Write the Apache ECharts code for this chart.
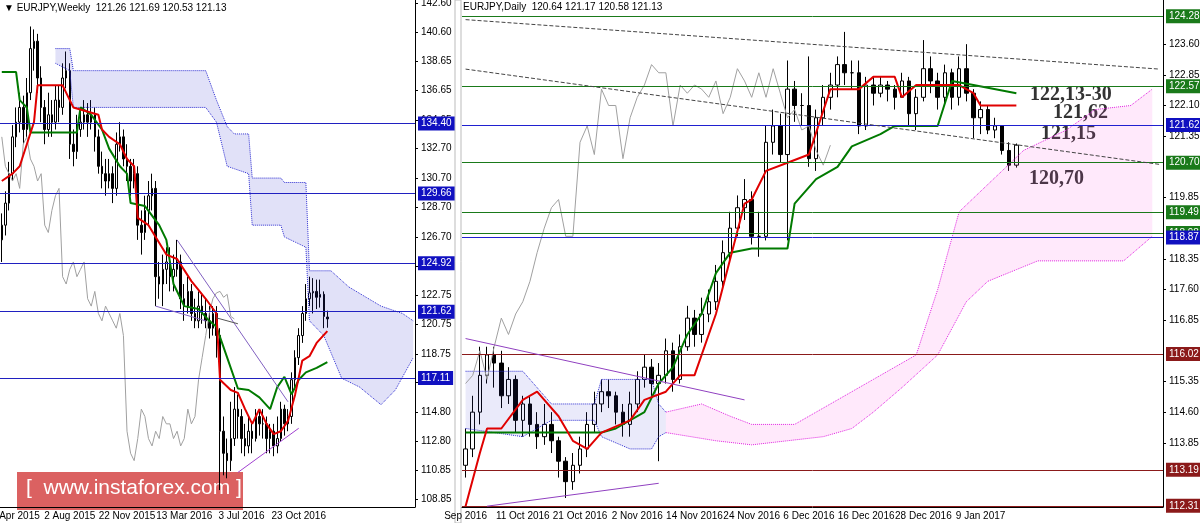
<!DOCTYPE html>
<html><head><meta charset="utf-8">
<script src="https://cdn.jsdelivr.net/npm/echarts@6/dist/echarts.min.js"></script>
<style>html,body{margin:0;padding:0;background:#fff}#c{width:1200px;height:523px}</style>
</head><body><div id="c"></div>
<script>
// ---------- Weekly (left) ----------
const wOpen=[126.5,127.5,129.0,131.0,133.5,134.5,135.5,134.0,136.5,139.5,140.0,137.5,135.5,134.0,135.0,134.5,136.0,135.5,137.5,138.0,133.0,132.5,134.0,134.5,135.0,134.5,135.0,133.5,131.5,131.0,130.5,131.0,130.0,133.0,133.5,132.0,131.5,130.5,131.0,127.5,127.0,128.5,129.5,130.0,124.0,123.5,124.5,125.0,124.0,124.5,125.0,122.5,122.0,123.0,121.5,121.0,122.0,121.5,121.0,120.5,121.5,120.0,113.5,112.0,111.5,113.0,115.0,114.5,113.0,112.5,113.5,113.0,114.5,114.0,114.0,113.0,113.5,112.5,113.0,115.0,114.0,114.5,117.0,118.5,120.0,121.5,122.5,122.9,123.0,122.6,122.8,121.26];
const wClose=[127.5,129.0,131.0,133.5,134.5,135.5,134.0,136.5,139.5,140.0,137.5,135.5,134.0,135.0,134.5,136.0,135.5,137.5,138.0,133.0,132.5,134.0,134.5,135.0,134.5,135.0,133.5,131.5,131.0,130.5,131.0,130.0,133.0,133.5,132.0,131.5,130.5,131.0,127.5,127.0,128.5,129.5,130.0,124.0,123.5,124.5,125.0,124.0,124.5,125.0,122.5,122.0,123.0,121.5,121.0,122.0,121.5,121.0,120.5,121.5,120.0,113.5,112.0,111.5,113.0,115.0,114.5,113.0,112.5,113.5,113.0,114.5,114.0,114.0,113.0,113.5,112.5,113.0,115.0,114.0,114.5,117.0,118.5,120.0,121.5,122.5,122.9,123.0,122.6,122.8,121.3,121.13];
const wHigh=[128.3,129.8,131.8,134.3,135.5,136.5,136.3,137.5,141.0,140.8,140.5,138.3,136.0,136.5,136.0,137.0,137.0,138.5,139.3,138.5,134.0,135.0,135.5,136.0,135.8,136.0,135.5,134.0,132.5,132.0,132.0,131.5,133.8,134.5,134.0,133.0,132.0,132.0,131.5,128.5,129.5,130.5,131.0,130.5,125.0,125.5,126.0,126.0,125.5,126.5,125.5,123.5,124.0,123.5,122.5,123.0,122.8,122.5,122.0,122.0,122.0,120.5,114.5,113.0,115.5,116.5,116.0,115.0,114.0,114.5,114.0,115.0,115.0,115.0,114.5,114.0,114.0,114.5,115.5,115.3,115.0,117.5,119.0,120.5,122.0,123.5,124.0,123.9,123.8,123.8,123.0,121.69];
const wLow=[125.0,126.8,128.5,130.5,132.8,133.8,133.0,133.5,136.0,138.0,136.5,134.5,133.0,133.5,133.5,134.0,134.5,135.0,136.8,132.0,131.5,132.0,133.5,134.0,133.5,134.0,132.5,131.0,130.0,129.5,130.0,129.0,129.5,132.5,131.5,130.5,129.5,130.0,126.5,125.5,126.5,127.5,128.5,122.0,122.5,122.0,123.5,123.0,123.0,124.0,121.8,121.0,121.5,121.0,120.5,120.5,120.8,120.5,119.8,120.0,118.5,109.5,110.5,110.3,110.8,112.5,113.0,112.0,111.8,112.0,112.0,112.8,113.2,113.0,112.0,112.0,111.8,112.0,112.8,113.2,113.5,114.0,116.5,118.0,119.5,121.0,122.0,121.5,121.8,121.9,120.5,120.53];
const wTenkan=[[0,130.5],[3,131],[5,131.5],[7,133],[9,134.5],[10,137],[17,137],[19,136],[20,135.5],[27,135],[28,134],[30,133.5],[33,133],[35,132],[37,131.5],[38,128],[41,127.5],[46,125.5],[49,125.2],[53,123.7],[57,122.5],[60,121.5],[61,117.0],[64,116.3],[66,116.1],[68,115],[70,114],[72,115],[74,114],[76,113.3],[78,113.5],[80,114.2],[82,116.0],[84,118.3],[86,118.6],[88,119.5],[91,120.3]];
const wKijun=[[0,137.9],[4,137.9],[5,136.0],[7,135.5],[8,133.8],[21,133.8],[22,135.5],[25,135],[28,134],[30,132.7],[33,131.5],[35,131],[36,129],[40,128.8],[44,127.5],[46,126.5],[48,123.5],[51,122],[55,121.8],[58,121],[60,120.6],[63,118.5],[66,116.4],[69,116.3],[72,115.8],[75,115.0],[77,116.5],[79,117.2],[81,116.0],[83,117.0],[85,117.5],[88,117.8],[91,118.2]];
const wCloudTop=[[15,139.5],[19,139.5],[20,138],[57,138],[60,136],[63,134.2],[65,133.7],[69,133.7],[70,130.7],[78,130.7],[79,130.4],[85,130.4],[86,124.4],[92,124.4],[97,123.3],[106,122.0],[112,121.5],[115,121.0]];
const wCloudBot=[[15,138.5],[19,138],[20,135.5],[57,135.5],[60,134.5],[63,131.5],[69,131],[70,127.5],[78,127.5],[79,126.7],[85,126],[86,121.0],[90,120.0],[95,117.1],[100,116.5],[106,115.3],[110,116.3],[115,118.5]];
const wLevels=[134.40,129.66,124.92,121.62,117.11];
const wTicks=[108.85,110.85,112.80,114.80,116.80,118.75,120.75,122.75,124.70,126.70,128.70,130.70,132.70,134.65,136.65,138.65,140.60,142.60];
const wLabels={3:'12 Apr 2015',19:'2 Aug 2015',35:'22 Nov 2015',51:'13 Mar 2016',67:'3 Jul 2016',83:'23 Oct 2016'};
const W_N=116;

// ---------- Daily (right) ----------
const dClose=[113.7,114.6,115.5,116.0,115.8,115.0,115.4,114.4,114.8,114.3,114.0,114.3,113.9,113.4,112.9,113.3,113.7,114.3,114.8,115.1,115.0,114.6,114.3,114.8,115.4,115.7,115.3,115.5,116.1,115.4,116.2,116.9,116.5,117.0,117.3,117.8,118.5,119.1,119.6,119.8,118.9,118.9,121.2,121.6,120.9,122.5,122.1,122.1,120.8,121.8,122.3,122.6,123.1,122.9,122.9,121.6,122.6,122.4,122.6,122.5,122.3,122.7,121.9,122.3,123.0,122.7,122.3,122.9,122.3,123.0,122.4,121.8,122.0,121.5,121.6,121.0,120.64,121.13];
const dHigh=[114.2,115.0,116.2,116.2,116.2,116.1,115.7,115.5,115.0,115.0,114.6,114.8,114.6,114.0,113.5,113.6,114.0,114.6,115.1,115.4,115.4,115.1,114.8,115.1,115.6,116.0,115.9,115.8,116.4,116.3,116.5,117.2,117.1,117.4,117.6,118.2,118.8,119.5,119.9,120.3,120.0,119.5,121.6,122.0,121.9,123.2,122.7,122.4,123.3,122.0,122.6,122.9,123.3,123.9,123.2,123.2,122.8,122.8,122.8,122.7,122.6,122.9,122.8,122.5,123.7,123.3,122.9,123.1,123.0,123.3,123.6,122.5,122.2,122.1,121.8,121.5,121.2,121.17];
const dLow=[113.0,113.5,114.3,115.3,115.2,114.7,114.8,114.1,114.0,114.0,113.7,113.8,113.6,113.0,112.5,112.7,113.1,113.5,114.1,114.6,114.7,114.3,114.0,114.0,114.6,115.2,115.0,113.4,115.3,115.1,115.3,116.1,116.2,116.3,116.8,117.1,117.6,118.3,118.9,119.3,118.7,118.4,118.8,120.9,120.7,118.8,121.7,121.6,120.6,120.5,121.6,122.0,122.3,122.6,122.5,121.4,121.5,122.1,122.3,122.2,122.0,122.3,121.6,121.5,122.2,122.4,122.0,122.1,122.0,122.1,122.2,121.3,121.4,121.4,121.3,120.9,120.5,120.58];
const dFirstOpen=113.3;
const dTenkan=[[0,112.3],[2,113.6],[3,114.2],[5,114.2],[8,114.9],[10,115.1],[11,114.9],[13,114.5],[15,113.9],[17,113.7],[19,114.1],[23,114.4],[25,114.9],[28,115.1],[30,115.5],[32,115.5],[35,117.0],[39,119.7],[40,119.8],[42,120.5],[45,120.7],[48,120.9],[51,122.5],[55,122.5],[57,122.8],[60,122.8],[61,122.3],[63,122.6],[69,122.6],[71,122.4],[72,122.1],[77,122.1]];
const dKijun=[[0,114.1],[4,114.1],[19,114.1],[21,114.2],[25,114.6],[27,115.3],[29,115.7],[31,116.5],[33,117.0],[35,118.0],[37,118.5],[40,118.6],[45,118.6],[46,119.7],[49,120.3],[52,120.6],[54,121.1],[58,121.4],[60,121.6],[66,121.6],[68,122.7],[71,122.6],[77,122.4]];
const dCloudTop=[[28,114.6],[33,114.8],[37,114.5],[40,114.3],[46,114.3],[52,114.9],[57,115.4],[63,116.0],[66,117.6],[69,119.5],[72,120.0],[78,121.0],[84,121.5],[88,122.0],[93,122.1],[96,122.5]];
const dCloudBot=[[28,114.1],[35,113.9],[40,113.8],[45,113.9],[50,114.0],[54,114.2],[57,114.6],[61,115.2],[66,116.0],[70,117.3],[73,117.8],[80,118.3],[92,118.3],[96,118.9]];
const dBlueTop=[[0,115.6],[8,115.6],[12,114.8],[18,114.8],[19,115.4],[26,115.4],[27,114.8],[28,114.6]];
const dBlueBot=[[0,114.2],[8,114.0],[12,114.4],[18,114.4],[19,114.0],[23,113.7],[26,113.7],[27,114.0],[28,114.1]];
const dGreenLevels=[124.28,122.57,120.70,119.49,118.98];
const dBlueLevels=[121.62,118.87];
const dRedLevels=[116.02,113.19,112.31];
const dTicks=[113.85,114.60,115.35,116.85,117.60,118.35,119.85,121.35,122.10,122.85,123.60];
const dLabels={0:'Sep 2016',8:'11 Oct 2016',16:'21 Oct 2016',24:'2 Nov 2016',32:'14 Nov 2016',40:'24 Nov 2016',48:'6 Dec 2016',56:'16 Dec 2016',64:'28 Dec 2016',72:'9 Jan 2017'};
const D_N=98;

// ---------- build ----------
const wCats=[...Array(W_N).keys()].map(String);
const dCats=[...Array(D_N).keys()].map(String);
const wOHLC=wClose.map((c,i)=>[wOpen[i],c,wLow[i],wHigh[i]]);
const dOHLC=dClose.map((c,i)=>[i?dClose[i-1]:dFirstOpen,c,dLow[i],dHigh[i]]);
const wChikou=wClose.slice(26).map((v,i)=>[i,v]);
const dChikou=dClose.slice(26).map((v,i)=>[i,v]);

function band(top,bot){
  const interp=(pts,x)=>{for(let k=0;k<pts.length-1;k++){const a=pts[k],b=pts[k+1];if(x>=a[0]&&x<=b[0])return a[1]+(b[1]-a[1])*(x-a[0])/(b[0]-a[0]);}return null;};
  const s=Math.max(top[0][0],bot[0][0]),e=Math.min(top[top.length-1][0],bot[bot.length-1][0]);
  const base=[],diff=[];
  for(let x=s;x<=e;x++){const t=interp(top,x),b=interp(bot,x);base.push([x,b]);diff.push([x,t-b]);}
  return {base,diff};
}
const wB=band(wCloudTop,wCloudBot), dPk=band(dCloudTop,dCloudBot), dBl=band(dBlueTop,dBlueBot);

const candleStyle={color:'#fff',color0:'#000',borderColor:'#000',borderColor0:'#000',borderWidth:1};
const lvl=(v,col,bg)=>({yAxis:v,lineStyle:{color:col,width:1,type:'solid'},label:{show:true,position:'end',distance:3,formatter:v.toFixed(2),color:'#fff',backgroundColor:bg,padding:[2,3],fontSize:10,fontFamily:'Arial'}});
const priceTag=v=>({yAxis:v,lineStyle:{width:0,opacity:0},label:{show:true,position:'end',distance:3,formatter:v.toFixed(2),color:'#fff',backgroundColor:'#000',padding:[1,3],fontSize:10,fontFamily:'Arial'}});
const seg=(a,b,col,type)=>[{coord:a,lineStyle:{color:col,width:1,type:type}},{coord:b}];

function bandSeries(b,xi,yi,fill,edge,name){
  return [
   {type:'line',xAxisIndex:xi,yAxisIndex:yi,stack:name,data:b.base,symbol:'none',lineStyle:{color:edge,width:1,type:'dotted'},silent:true},
   {type:'line',xAxisIndex:xi,yAxisIndex:yi,stack:name,data:b.diff,symbol:'none',lineStyle:{color:edge,width:1,type:'dotted'},
    areaStyle:{color:fill},silent:true}
  ];
}
const xLab={fontSize:10,color:'#000',fontFamily:'"Liberation Sans Narrow", Arial',margin:4};

const option={
  animation:false,
  grid:[{left:0,right:785,top:0,bottom:16,outerBoundsMode:'none'},{left:462,right:37,top:0,bottom:16,outerBoundsMode:'none'}],
  xAxis:[
    {type:'category',gridIndex:0,data:wCats,axisLine:{lineStyle:{color:'#000'}},axisTick:{show:false},
     axisLabel:Object.assign({interval:0,hideOverlap:false,formatter:(v,i)=>wLabels[i]||''},xLab)},
    {type:'category',gridIndex:1,data:dCats,axisLine:{lineStyle:{color:'#000'}},axisTick:{show:false},
     axisLabel:Object.assign({interval:0,hideOverlap:false,formatter:(v,i)=>dLabels[i]||''},xLab)}
  ],
  yAxis:[
    {type:'value',gridIndex:0,position:'right',min:108.35,max:142.8,splitLine:{show:false},axisLine:{show:true,lineStyle:{color:'#000'}},
     axisTick:{show:true,customValues:wTicks,length:3},axisLabel:{customValues:wTicks,formatter:v=>v.toFixed(2),fontSize:10,color:'#000',fontFamily:'Arial',margin:6}},
    {type:'value',gridIndex:1,position:'right',min:112.28,max:124.68,splitLine:{show:false},axisLine:{show:true,lineStyle:{color:'#000'}},
     axisTick:{show:true,customValues:dTicks,length:3},axisLabel:{customValues:dTicks,formatter:v=>v.toFixed(2),fontSize:10,color:'#000',fontFamily:'Arial',margin:6}}
  ],
  series:[
    ...bandSeries(wB,0,0,'rgba(60,60,210,0.22)','#2a2ad0','wc'),
    {type:'line',xAxisIndex:0,yAxisIndex:0,data:wChikou,symbol:'none',lineStyle:{color:'#a0a0a0',width:1}},
    {type:'line',xAxisIndex:0,yAxisIndex:0,data:wKijun,symbol:'none',lineStyle:{color:'#007a00',width:2}},
    {type:'line',xAxisIndex:0,yAxisIndex:0,data:wTenkan,symbol:'none',lineStyle:{color:'#e00000',width:2}},
    {type:'candlestick',xAxisIndex:0,yAxisIndex:0,data:wOHLC,barWidth:2,itemStyle:candleStyle,
     markLine:{symbol:'none',silent:true,data:[...wLevels.map(v=>lvl(v,'#2020c0','#1010c0')),priceTag(121.13),
       seg([49,126.5],[80,115.5],'#8060c0','solid'),seg([66,110.7],[83,113.7],'#a040d0','solid'),seg([43,122.0],[57,121.0],'#8060c0','solid'),seg([60,121.2],[66,120.8],'#555','solid')]}},
    ...bandSeries(dPk,1,1,'rgba(255,80,220,0.18)','#e020e0','dp'),
    ...bandSeries(dBl,1,1,'rgba(60,60,210,0.15)','#2a2ad0','db'),
    {type:'line',xAxisIndex:1,yAxisIndex:1,data:dChikou,symbol:'none',lineStyle:{color:'#a0a0a0',width:1}},
    {type:'line',xAxisIndex:1,yAxisIndex:1,data:dKijun,symbol:'none',lineStyle:{color:'#007a00',width:2}},
    {type:'line',xAxisIndex:1,yAxisIndex:1,data:dTenkan,symbol:'none',lineStyle:{color:'#e00000',width:2}},
    {type:'candlestick',xAxisIndex:1,yAxisIndex:1,data:dOHLC,barWidth:4,itemStyle:candleStyle,
     markLine:{symbol:'none',silent:true,data:[
       ...dGreenLevels.map(v=>lvl(v,'#1a7a1a','#1a7a1a')),...dBlueLevels.map(v=>lvl(v,'#2020d0','#1010c0')),
       ...dRedLevels.map(v=>lvl(v,'#8b1a1a','#8b1a1a')),priceTag(121.13),
       seg([0,124.2],[97,122.99],'#444','dashed'),seg([0,122.99],[97,120.66],'#444','dashed'),
       seg([0,116.4],[39,114.9],'#9040c0','solid'),seg([3,112.3],[27,112.86],'#9040c0','solid')]}}
  ],
  graphic:[
    {type:'rect',shape:{x:455,y:0,width:6,height:523},style:{fill:'#fff',stroke:'#bbb'}},
    {type:'text',left:4,top:3,style:{text:'▼ EURJPY,Weekly  121.26 121.69 120.53 121.13',font:'10px Arial',fill:'#000'}},
    {type:'text',left:463,top:2,style:{text:'EURJPY,Daily  120.64 121.17 120.58 121.13',font:'10px Arial',fill:'#000'}},
    {type:'text',left:1030,top:85,style:{text:'122,13-30',font:'bold 20px "Liberation Serif"',fill:'#333'}},
    {type:'text',left:1053,top:103,style:{text:'121,62',font:'bold 20px "Liberation Serif"',fill:'#333'}},
    {type:'text',left:1041,top:124,style:{text:'121,15',font:'bold 20px "Liberation Serif"',fill:'#333'}},
    {type:'text',left:1029,top:169,style:{text:'120,70',font:'bold 20px "Liberation Serif"',fill:'#333'}},
    {type:'rect',shape:{x:17,y:472,width:226,height:38},style:{fill:'rgba(215,80,80,0.9)'}},
    {type:'text',left:26,top:478,style:{text:'[  www.instaforex.com ]',font:'21px Arial',fill:'#fff'}}
  ]
};
echarts.init(document.getElementById('c')).setOption(option);
</script></body></html>
